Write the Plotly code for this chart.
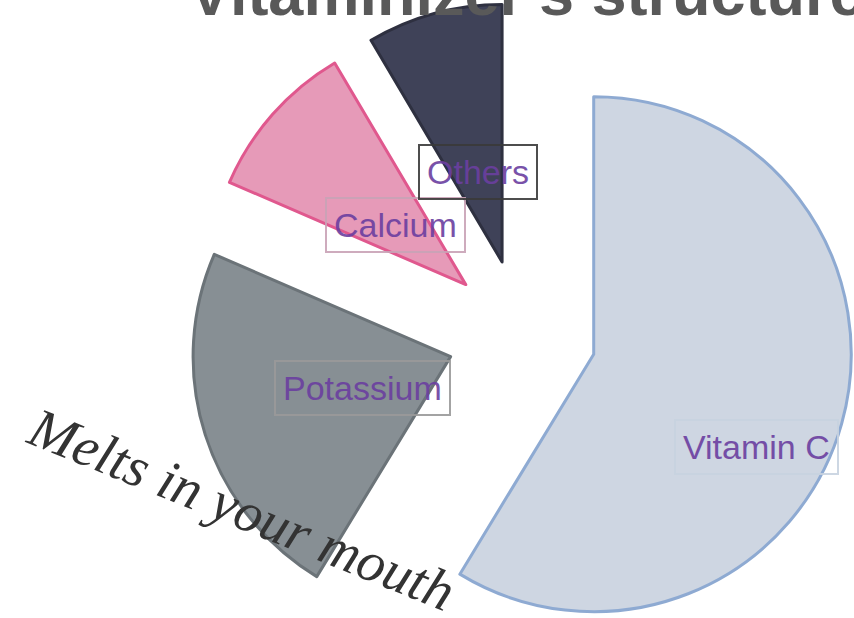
import plotly.graph_objects as go

# ---- data ----
labels = ["Vitamin C", "Potassium", "Calcium", "Others"]
values = [58.7, 22.8, 10.0, 8.5]
title_text = "Vitaminizer's structure"
tagline = "Melts in your mouth"

# ---- style ----
fill_colors = ["#ced6e2", "#878f94", "#e69ab8", "#3f4258"]
line_colors = ["#8eaad2", "#6b7378", "#e0588e", "#2e3040"]
box_colors = ["#c8d3e0", "#9a9a9a", "#c9a3b6", "#3a3a3a"]
label_pos = {  # paper coords of the boxed labels
    "Vitamin C": (0.8860, 0.3308),
    "Potassium": (0.4245, 0.4192),
    "Calcium": (0.4630, 0.6632),
    "Others": (0.5595, 0.7425),
}

W, H = 854, 668

fig = go.Figure()
fig.add_trace(go.Pie(
    labels=labels,
    values=values,
    sort=False,
    direction="clockwise",
    rotation=0,
    pull=[0.29] * len(labels),
    textinfo="none",
    hoverinfo="label+percent",
    marker=dict(colors=fill_colors, line=dict(color=line_colors, width=3)),
    domain=dict(x=[0.222, 1], y=[0, 1]),
    showlegend=False,
))

annotations = []
for lab, bc in zip(labels, box_colors):
    x, y = label_pos[lab]
    annotations.append(dict(
        x=x, y=y, xref="paper", yref="paper", xanchor="center", yanchor="middle",
        text=lab, showarrow=False,
        font=dict(family="Liberation Sans, Arial, sans-serif", size=34, color="#6b3fa0"),
        bordercolor=bc, borderwidth=2, borderpad=7, bgcolor="rgba(255,255,255,0)",
        opacity=0.9,
    ))

# title, sitting partly above the top edge
annotations.append(dict(
    x=0.617, y=1, xref="paper", yref="paper", xanchor="center", yanchor="middle",
    yshift=7,
    text=title_text, showarrow=False,
    font=dict(family="Liberation Sans, Arial, sans-serif", size=63, color="#595959", weight="bold"),
))

annotations.append(dict(
    x=0.283, y=0.238, xref="paper", yref="paper", xanchor="center", yanchor="middle",
    text=tagline, showarrow=False, textangle=22,
    font=dict(family="Liberation Serif, serif", size=56, color="#333333", style="italic"),
))

fig.update_layout(
    width=W, height=H,
    margin=dict(l=0, r=0, t=0, b=0),
    paper_bgcolor="white", plot_bgcolor="white",
    annotations=annotations,
)

fig.write_html(
    "out.html",
    config={"displayModeBar": False},
    post_script="document.body.style.margin='0';document.body.style.overflow='hidden';document.documentElement.style.overflow='hidden';",
)
